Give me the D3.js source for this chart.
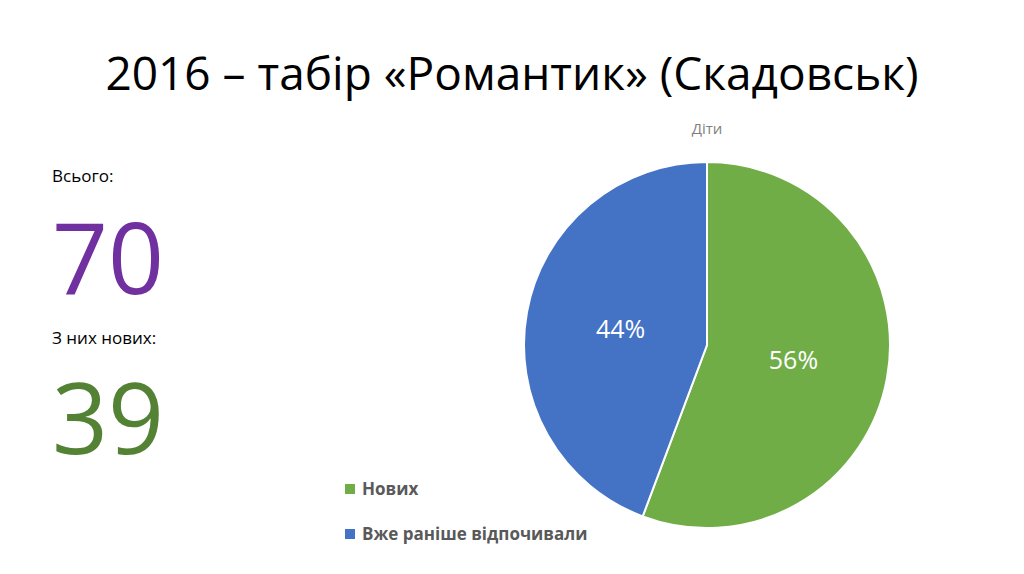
<!DOCTYPE html>
<html><head><meta charset="utf-8">
<script src="https://cdn.jsdelivr.net/npm/d3@7"></script>
<style>body{margin:0;background:#fff}</style></head>
<body><svg id="c" width="1024" height="574"></svg>
<script>
var categories = ["Нових", "Вже раніше відпочивали"];
var values = [39, 31];
var colors = ["#70AD47", "#4472C4"];
var total = 70, newCount = 39;

var svg = d3.select("#c");
var font = "'Open Sans', 'Noto Sans', sans-serif";

svg.append("text").attr("x", 512).attr("y", 90).attr("text-anchor", "middle")
  .attr("font-family", font).attr("font-size", 46).attr("fill", "#000")
  .text("2016 – табір «Романтик» (Скадовськ)");

svg.append("text").attr("x", 52).attr("y", 182).attr("font-family", font)
  .attr("font-size", 17).text("Всього:");
svg.append("text").attr("x", 52).attr("y", 294).attr("font-family", font)
  .attr("font-size", 98).attr("fill", "#7030A0").text(total);
svg.append("text").attr("x", 52).attr("y", 344).attr("font-family", font)
  .attr("font-size", 17).text("З них нових:");
svg.append("text").attr("x", 52).attr("y", 454).attr("font-family", font)
  .attr("font-size", 98).attr("fill", "#548235").text(newCount);

svg.append("text").attr("x", 707).attr("y", 134).attr("text-anchor", "middle")
  .attr("font-family", font).attr("font-size", 15).attr("fill", "#7f7f7f").text("Діти");

var cx = 707, cy = 345, r = 183;
var pie = d3.pie().sort(null)(values);
var arc = d3.arc().innerRadius(0).outerRadius(r);
var labelArc = d3.arc().innerRadius(r * 0.48).outerRadius(r * 0.48);
var g = svg.append("g").attr("transform", "translate(" + cx + "," + cy + ")");
g.selectAll("path").data(pie).join("path").attr("d", arc)
  .attr("fill", function(d, i){ return colors[i]; })
  .attr("stroke", "#fff").attr("stroke-width", 2);
g.selectAll("text").data(pie).join("text")
  .attr("transform", function(d){ return "translate(" + labelArc.centroid(d) + ")"; })
  .attr("text-anchor", "middle").attr("dy", "0.35em")
  .attr("font-family", font).attr("font-size", 25).attr("fill", "#fff")
  .text(function(d){ return Math.round(d.data / total * 100) + "%"; });

var lg = svg.selectAll("g.leg").data(categories).join("g")
  .attr("transform", function(d, i){ return "translate(345," + (489 + i * 45) + ")"; });
lg.append("rect").attr("x", 0).attr("y", -5).attr("width", 10).attr("height", 10)
  .attr("fill", function(d, i){ return colors[i]; });
lg.append("text").attr("x", 17).attr("dy", "0.35em").attr("font-family", font)
  .attr("font-size", 17).attr("font-weight", "bold").attr("fill", "#595959")
  .text(function(d){ return d; });
</script></body></html>
